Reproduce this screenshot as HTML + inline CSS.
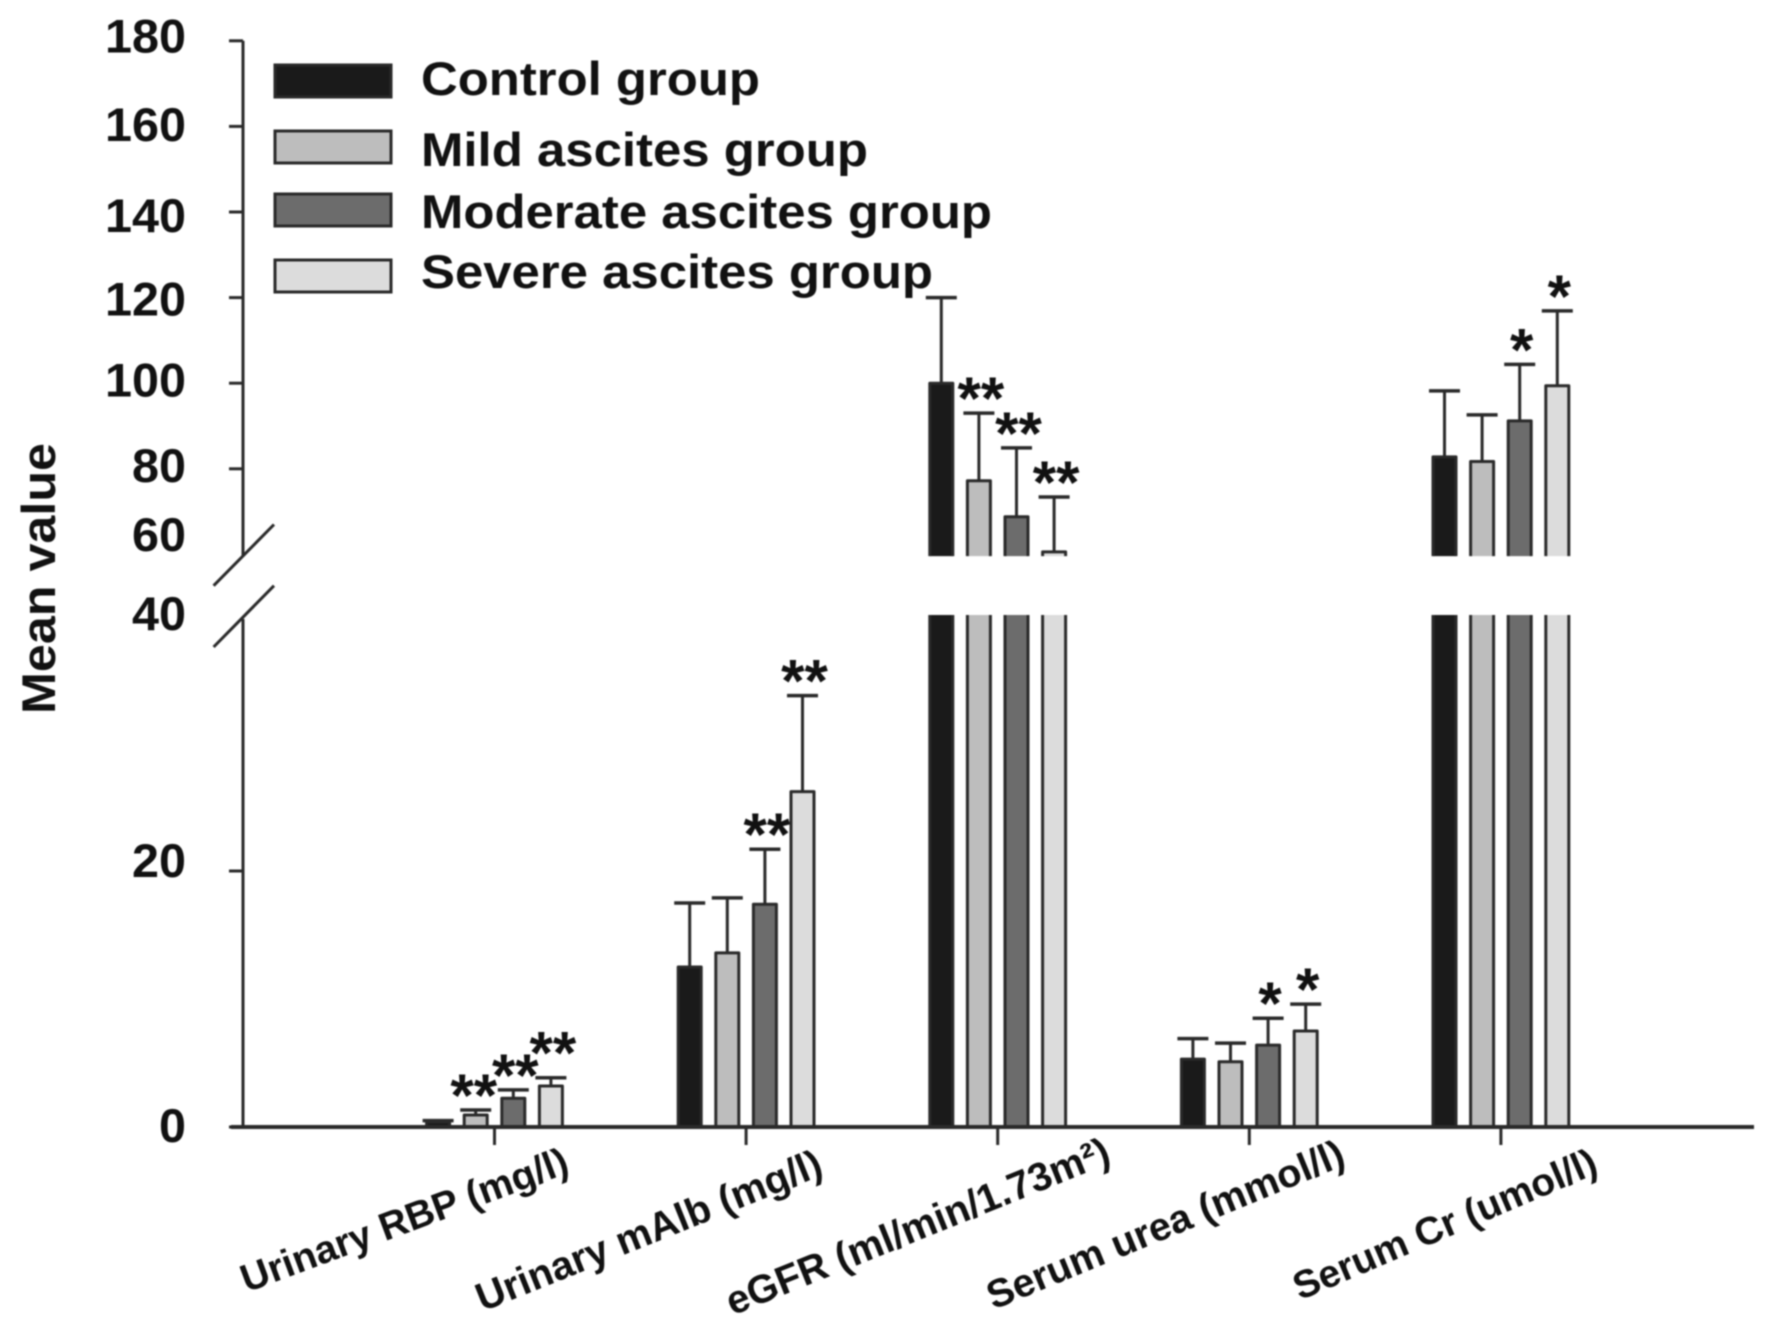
<!DOCTYPE html>
<html lang="en">
<head>
<meta charset="utf-8">
<title>Mean value by ascites group</title>
<style>
  html, body { margin: 0; padding: 0; background: #fff; }
  body { width: 1772px; height: 1330px; overflow: hidden; }
  svg { display: block; filter: blur(0.9px); }
  text { font-family: "Liberation Sans", Arial, sans-serif; font-weight: bold; fill: #111; }
</style>
</head>
<body>
<svg id="chart" xmlns="http://www.w3.org/2000/svg" width="1772" height="1330" viewBox="0 0 1772 1330">
  <rect x="0" y="0" width="1772" height="1330" fill="#ffffff"/>
  <text transform="translate(55 714) rotate(-90)" font-size="47" textLength="271" lengthAdjust="spacingAndGlyphs">Mean value</text>
  <g>
    <rect x="275" y="65" width="116" height="32" fill="#1a1a1a" stroke="#2a2a2a" stroke-width="3"/>
    <text x="421" y="95" font-size="47" textLength="339" lengthAdjust="spacingAndGlyphs">Control group</text>
    <rect x="275" y="131" width="116" height="32" fill="#bdbdbd" stroke="#2a2a2a" stroke-width="3"/>
    <text x="421" y="166" font-size="47" textLength="447" lengthAdjust="spacingAndGlyphs">Mild ascites group</text>
    <rect x="275" y="194" width="116" height="32" fill="#6c6c6c" stroke="#2a2a2a" stroke-width="3"/>
    <text x="421" y="228" font-size="47" textLength="571" lengthAdjust="spacingAndGlyphs">Moderate ascites group</text>
    <rect x="275" y="260" width="116" height="32" fill="#dcdcdc" stroke="#2a2a2a" stroke-width="3"/>
    <text x="421" y="288" font-size="47" textLength="512" lengthAdjust="spacingAndGlyphs">Severe ascites group</text>
  </g>
  <g id="marks"></g>
  <g id="axes"></g>
</svg>
<script>
const categories = ["Urinary RBP (mg/l)", "Urinary mAlb (mg/l)", "eGFR (ml/min/1.73m²)", "Serum urea (mmol/l)", "Serum Cr (umol/l)"];
const seriesNames = ["control", "mild", "moderate", "severe"];
const controlMean = [0.4, 12.5, 100, 5.3, 82.8];
const mildMean = [0.94, 13.6, 77.2, 5.1, 81.7];
const moderateMean = [2.25, 17.4, 68.8, 6.4, 91.2];
const severeMean = [3.2, 26.2, 60.6, 7.5, 99.4];
const controlError = [0.1, 5, 20, 1.6, 15.4];
const mildError = [0.39, 4.3, 15.8, 1.45, 10.9];
const moderateError = [0.65, 4.3, 16.1, 2.1, 13.2];
const severeError = [0.65, 7.5, 12.8, 2.1, 17.5];
const controlStars = ["", "", "", "", ""];
const mildStars = ["**", "", "**", "", ""];
const moderateStars = ["**", "**", "**", "*", "*"];
const severeStars = ["**", "**", "**", "*", "*"];
const tickedValues = [180, 160, 140, 120, 100, 80, 20, 0];
const tickLabels = [180, 160, 140, 120, 100, 80, 60, 40, 20, 0];

const means = [controlMean, mildMean, moderateMean, severeMean];
const errors = [controlError, mildError, moderateError, severeError];
const stars = [controlStars, mildStars, moderateStars, severeStars];
const fills = ["#1a1a1a", "#bdbdbd", "#6c6c6c", "#dcdcdc"];
const ink = "#2a2a2a";
const NS = "http://www.w3.org/2000/svg";
const marks = document.getElementById("marks");
const axes = document.getElementById("axes");

const BREAK_LOW = 40;
const BREAK_HIGH = 59.6;

function yScale(v) {
  if (v <= BREAK_LOW) return 1127 - 12.8 * v;
  return 468.8 - (v - 80) * 4.28;
}
function groupX(i) { return 494.5 + i * 251.6; }
function barX(i, s) { return groupX(i) + (s - 1.5) * 37.6; }

function shape(parent, tag, attrs) {
  const el = document.createElementNS(NS, tag);
  for (const k in attrs) el.setAttribute(k, attrs[k]);
  parent.appendChild(el);
  return el;
}
function barPath(x, bottom, top) {
  const l = x - 11.5, r = x + 11.5;
  return "M" + l + " " + bottom + "V" + top + "H" + r + "V" + bottom;
}
function sidesPath(x, bottom, top) {
  const l = x - 11.5, r = x + 11.5;
  return "M" + l + " " + bottom + "V" + top + "M" + r + " " + bottom + "V" + top;
}

means.forEach(function (series, s) {
  series.forEach(function (v, i) {
    const x = barX(i, s);
    const fillStyle = { fill: fills[s], stroke: ink, "stroke-width": 3, "stroke-linejoin": "round" };
    if (v > BREAK_LOW) {
      const lower = shape(marks, "rect", { x: x - 11.5, y: yScale(BREAK_LOW), width: 23, height: yScale(0) - yScale(BREAK_LOW), fill: fills[s] });
      
      
      const sides = shape(marks, "path", { d: sidesPath(x, yScale(0), yScale(BREAK_LOW)), fill: "none", stroke: ink, "stroke-width": 3 });
      
      
      const upper = shape(marks, "path", Object.assign({ d: barPath(x, yScale(BREAK_HIGH), yScale(Math.max(v, BREAK_HIGH))) }, fillStyle));
      
      
    } else {
      const bar = shape(marks, "path", Object.assign({ d: barPath(x, yScale(0), yScale(v)) }, fillStyle));
      
      
    }
    const capValue = v + errors[s][i];
    const stem = shape(marks, "line", { x1: x, x2: x, y1: yScale(v), y2: yScale(capValue), stroke: ink, "stroke-width": 3 });
    
    
    const cap = shape(marks, "line", { x1: x - 15.5, x2: x + 15.5, y1: yScale(capValue), y2: yScale(capValue), stroke: ink, "stroke-width": 3.5 });
    
    
    if (stars[s][i]) {
      const extraLift = (s === 3 && i === 0) ? 10 : 0;
      const star = shape(marks, "text", { x: x + 2 - (i === 0 && s === 1 ? 4 : 0), y: yScale(capValue) - 27 - extraLift + 33, "font-size": 60, "text-anchor": "middle" });
      star.textContent = stars[s][i];
      
      
    }
  });
});

const axisStyle = { stroke: ink, "stroke-width": 3, fill: "none" };
const upperAxis = shape(axes, "line", Object.assign({ x1: 243, x2: 243, y1: yScale(180), y2: yScale(BREAK_HIGH) }, axisStyle));


const lowerAxis = shape(axes, "line", Object.assign({ x1: 243, x2: 243, y1: yScale(BREAK_LOW) + 4, y2: yScale(0) }, axisStyle));


const xAxis = shape(axes, "line", { x1: 231, x2: 1754, y1: yScale(0), y2: yScale(0), stroke: ink, "stroke-width": 4 });


const breakUpper = shape(axes, "line", Object.assign({ x1: 274, y1: 524.5, x2: 213.6, y2: 585.7 }, axisStyle));


const breakLower = shape(axes, "line", Object.assign({ x1: 274, y1: 585.7, x2: 213.6, y2: 647 }, axisStyle));



tickedValues.forEach(function (v) {
  const tick = shape(axes, "line", Object.assign({ x1: 229, x2: 243, y1: yScale(v), y2: yScale(v) }, axisStyle));
  
  
});

function labelBaseline(v) {
  const nudge = { 180: 11.7, 160: 14.7, 140: 20, 120: 18, 100: 13.4, 80: 13.2, 60: -3.2, 40: 15, 20: 5.8, 0: 14.8 };
  return yScale(v) + nudge[v];
}
tickLabels.forEach(function (v) {
  const text = String(v);
  const label = shape(axes, "text", { x: 186, y: labelBaseline(v), "font-size": 47, "text-anchor": "end", textLength: text.length * 27, lengthAdjust: "spacingAndGlyphs" });
  label.textContent = text;
  
  
});

function categoryTransform(i) {
  const endDx = [76.5, 79, 115, 98, 99][i];
  const endY = [1172, 1174, 1162, 1164, 1172][i];
  const angle = [20.4, 21.9, 22, 22.4, 23.2][i];
  return "translate(" + (groupX(i) + endDx) + " " + endY + ") rotate(-" + angle + ")";
}
function categoryFont(i) {
  return [39, 39.8, 39.9, 39.6, 38.9][i];
}
categories.forEach(function (name, i) {
  const x = groupX(i);
  const tick = shape(axes, "line", Object.assign({ x1: x, x2: x, y1: yScale(0), y2: yScale(0) + 18 }, axisStyle));
  
  
  const label = shape(axes, "text", { "font-size": categoryFont(i), "text-anchor": "end", transform: categoryTransform(i) });
  label.textContent = name;
  
  
});
</script>
</body>
</html>
